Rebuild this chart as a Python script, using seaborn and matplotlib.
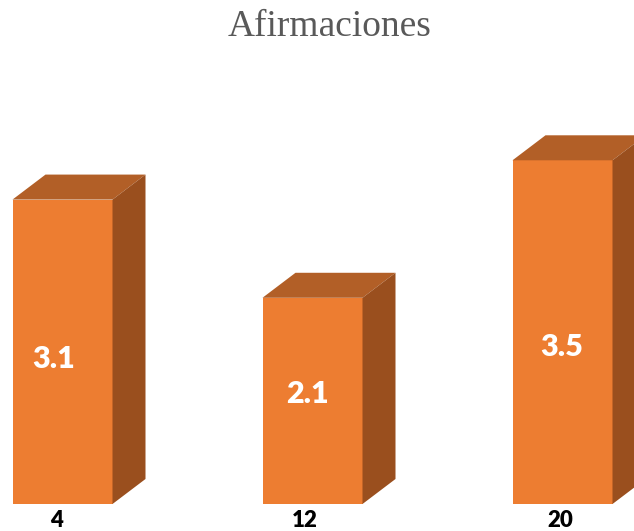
import matplotlib
matplotlib.use("Agg")
import matplotlib.pyplot as plt
from matplotlib.patches import Polygon
from matplotlib.transforms import ScaledTranslation
import seaborn as sns

# Chart data
categories = ["4", "12", "20"]
values = [3.1, 2.1, 3.5]
title = "Afirmaciones"

FRONT = "#ED7D31"
TOP = "#B25F27"
SIDE = "#9A4F1E"
DEPTH = (33, 25)  # pixel offset of the extruded back face
# small pixel nudges for the value labels and category labels (dx, dy)
LABEL_NUDGE = [(-9, -7), (-5, 7), (-1, -15)]
TICK_NUDGE = [-6, -8, -2]

sns.set_style("white")
plt.rcParams["font.family"] = ["Lato", "DejaVu Sans"]

W, H = 634, 531
fig = plt.figure(figsize=(W / 100, H / 100), dpi=100)
base_px = 27  # distance of the bar baseline from the bottom edge
ax = fig.add_axes([0, base_px / H, 1, 1 - base_px / H])

sns.barplot(x=categories, y=values, color=FRONT, width=0.4, saturation=1,
            ax=ax, edgecolor="none", linewidth=0)

unit_px = 250.0  # horizontal pixels per category step
ax.set_xlim(-62.5 / unit_px, (W - 62.5) / unit_px)
ax.set_ylim(0, (H - base_px) / 98.2)

fig.canvas.draw()
to_disp = ax.transData.transform
to_data = ax.transData.inverted().transform
dx, dy = DEPTH

for patch, val, (nx, ny) in zip(ax.patches, values, LABEL_NUDGE):
    x0 = patch.get_x()
    x1 = x0 + patch.get_width()
    y0, y1 = 0, patch.get_height()
    (px0, py0), (px1, py1) = to_disp([(x0, y0), (x1, y1)])
    top = to_data([(px0, py1), (px1, py1), (px1 + dx, py1 + dy), (px0 + dx, py1 + dy)])
    side = to_data([(px1, py0), (px1 + dx, py0 + dy), (px1 + dx, py1 + dy), (px1, py1)])
    ax.add_patch(Polygon(top, closed=True, facecolor=TOP, edgecolor="none", clip_on=False))
    ax.add_patch(Polygon(side, closed=True, facecolor=SIDE, edgecolor="none", clip_on=False))
    off = ScaledTranslation(nx / 100, ny / 100, fig.dpi_scale_trans)
    ax.text(x0 + patch.get_width() / 2, y1 / 2, f"{val:.1f}", ha="center", va="center",
            color="white", fontsize=22, fontweight="heavy",
            transform=ax.transData + off)

for s in ax.spines.values():
    s.set_visible(False)
ax.set_yticks([])
ax.set_xlabel("")
ax.set_ylabel("")
ax.tick_params(axis="x", length=0, pad=4)
for lbl, nx in zip(ax.get_xticklabels(), TICK_NUDGE):
    lbl.set_fontsize(16)
    lbl.set_fontweight("heavy")
    lbl.set_color("black")
    lbl.set_transform(lbl.get_transform() + ScaledTranslation(nx / 100, 0, fig.dpi_scale_trans))

fig.text(329.5 / W, 1 - 27 / H, title, ha="center", va="center",
         family=["Liberation Serif", "DejaVu Serif"], fontsize=27, color="#595959")

fig.savefig("out.png", dpi=100)
